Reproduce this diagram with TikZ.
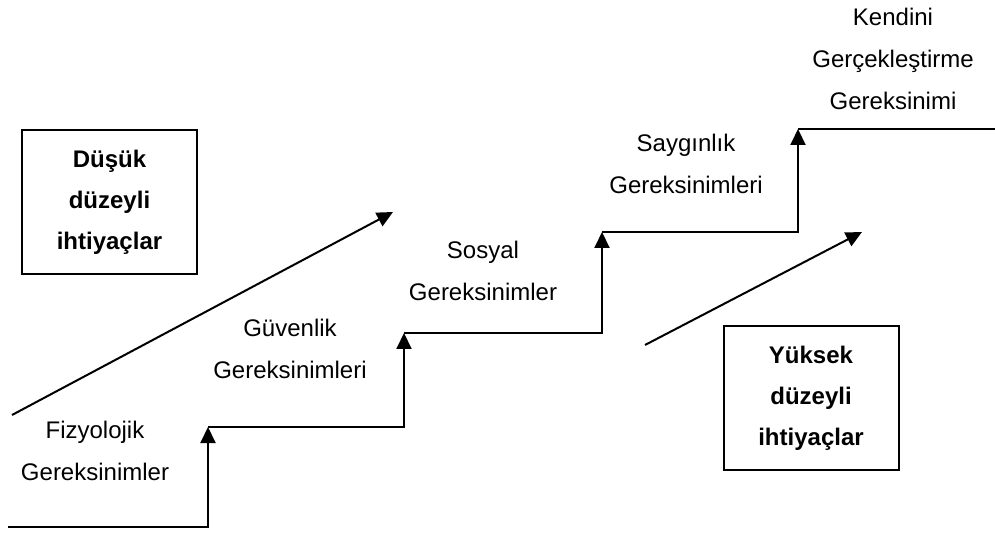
\documentclass[tikz,border=0pt]{standalone}
\usepackage{fontspec}
\setmainfont{Liberation Sans}
\usetikzlibrary{arrows.meta,positioning}

\begin{document}
\begin{tikzpicture}[x=1pt, y=1pt,
    stair/.style={line width=2pt, -{Triangle[length=16pt,width=15pt]}},
    lbl/.style={align=center, font=\fontsize{24}{42}\selectfont},
    levelbox/.style={draw, line width=2pt, minimum width=175pt, minimum height=144pt,
        align=center, font=\bfseries\fontsize{24}{41}\selectfont}]
    \useasboundingbox (0,0) rectangle (995,533);

    % corners of the staircase
    \coordinate (s0) at (8,6);
    \coordinate (s1) at (208,106);
    \coordinate (s2) at (404,200);
    \coordinate (s3) at (602,301);
    \coordinate (s4) at (798,404);
    \coordinate (s5) at (995,404);
    \foreach \i in {0,1,2,3} {
        \draw[stair] (s\i) -| (s\the\numexpr\i+1\relax);
    }
    \draw[line width=2pt] (s4) -- (s5);

    % rising trend arrows
    \coordinate (d0) at (12,118);
    \coordinate (d1) at (393,321);
    \coordinate (d2) at (645,188);
    \coordinate (d3) at (862,301);
    \draw[stair] (d0) -- (d1);
    \draw[stair] (d2) -- (d3);

    % step labels
    \node[lbl] (fizyo) at (95,82) {Fizyolojik\\Gereksinimler};
    \node[lbl] (guven) at (290,184) {Güvenlik\\Gereksinimleri};
    \node[lbl] (sosyal) at (483,262) {Sosyal\\Gereksinimler};
    \node[lbl] (saygi) at (686,369) {Saygınlık\\Gereksinimleri};
    \node[lbl] (kendini) at (893,474) {Kendini\\Gerçekleştirme\\Gereksinimi};

    % boxes
    \node[levelbox] (low) at (109.5,331) {Düşük\\düzeyli\\ihtiyaçlar};
    \node[levelbox] (high) at (811,135) {Yüksek\\düzeyli\\ihtiyaçlar};
\end{tikzpicture}
\end{document}
